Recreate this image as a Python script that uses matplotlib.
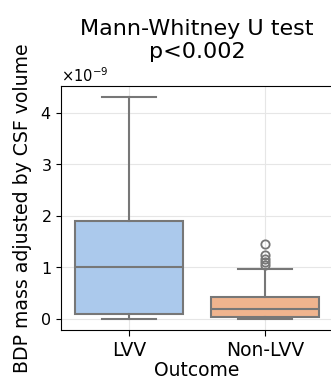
import matplotlib
matplotlib.use("Agg")
import matplotlib.pyplot as plt
import matplotlib.ticker as ticker

categories = ["LVV", "Non-LVV"]
# box statistics (units of 1e-9)
whislo = [0.0, 0.0]
q1 = [0.10, 0.04]
med = [1.00, 0.20]
q3 = [1.90, 0.42]
whishi = [4.30, 0.96]
fliers = [[], [1.05, 1.10, 1.17, 1.25, 1.45]]
colors = ["#abc9ec", "#f0b48e"]
EDGE = "#777777"

stats = []
for i, c in enumerate(categories):
    stats.append(dict(label=c, whislo=whislo[i] * 1e-9, q1=q1[i] * 1e-9, med=med[i] * 1e-9,
                      q3=q3[i] * 1e-9, whishi=whishi[i] * 1e-9,
                      fliers=[f * 1e-9 for f in fliers[i]]))

fig = plt.figure(figsize=(3.31, 3.85), dpi=100)
ax = fig.add_axes([61 / 331, 1 - 330 / 385, 272 / 331, 244 / 385])
ax.grid(True, color="#e6e6e6", lw=0.8, zorder=0)
ax.set_axisbelow(True)
bp = ax.bxp(stats, positions=range(len(categories)), widths=0.8, patch_artist=True,
            boxprops=dict(edgecolor=EDGE, lw=1.5),
            medianprops=dict(color=EDGE, lw=1.5),
            whiskerprops=dict(color=EDGE, lw=1.5),
            capprops=dict(color=EDGE, lw=1.5),
            capwidths=0.4,
            flierprops=dict(marker="o", mfc="none", mec=EDGE, ms=6, mew=1.3))
for patch, col in zip(bp["boxes"], colors):
    patch.set_facecolor(col)

ax.set_xlim(-0.5, 1.5)
ax.set_ylim(-0.215e-9, 4.52e-9)
fmt = ticker.ScalarFormatter(useMathText=True)
ax.yaxis.set_major_formatter(fmt)
ax.yaxis.get_offset_text().set_fontsize(10.5)
ax.set_xticks(range(len(categories)))
ax.set_xticklabels(categories, fontsize=13.5)
ax.tick_params(axis="y", labelsize=11.5)
ax.tick_params(axis="x", length=4.5)
ax.set_xlabel("Outcome", fontsize=13.5, labelpad=1)
ax.set_ylabel("BDP mass adjusted by CSF volume", fontsize=13.6, labelpad=6)
ax.set_title("Mann-Whitney U test\np<0.002", fontsize=16, pad=20, x=0.5)
for s in ax.spines.values():
    s.set_color("black")
fig.savefig("out.png", dpi=100)
